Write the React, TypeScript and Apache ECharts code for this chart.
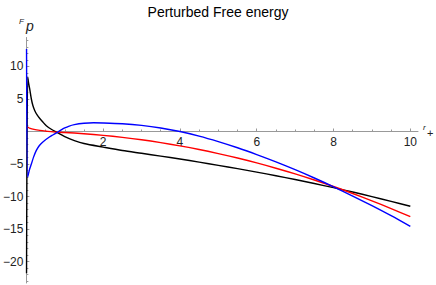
import React, { useEffect, useRef } from "react";
import * as echarts from "echarts";

const blackR = [0.005, 0.035, 0.06, 0.086, 0.13, 0.17, 0.22, 0.28, 0.35, 0.43, 0.52, 0.65, 0.8, 1.0, 1.25, 1.5, 2.0, 2.5, 3.0, 3.5, 4.0, 4.5, 5.0, 5.5, 6.0, 6.5, 7.0, 7.5, 8.0, 8.5, 9.0, 9.5, 10.0];
const blackF = [-21.8, 8.4, 7.4, 6.6, 5.0, 4.0, 3.2, 2.55, 2.0, 1.45, 0.9, 0.35, -0.15, -0.8, -1.4, -1.85, -2.4, -2.92, -3.35, -3.78, -4.22, -4.7, -5.2, -5.71, -6.24, -6.8, -7.39, -8.0, -8.64, -9.31, -10.01, -10.74, -11.5];

const redR = [0.035, 0.1, 0.2, 0.35, 0.52, 0.7, 1.0, 1.5, 2.0, 2.5, 3.0, 3.5, 4.0, 4.5, 5.0, 5.5, 6.0, 6.5, 7.0, 7.5, 8.0, 8.5, 9.0, 9.5, 10.0];
const redF = [0.7, 0.48, 0.32, 0.17, 0.05, -0.06, -0.15, -0.34, -0.59, -0.9, -1.27, -1.71, -2.21, -2.77, -3.4, -4.08, -4.83, -5.65, -6.52, -7.46, -8.46, -9.53, -10.66, -11.85, -13.1];

const blueR = [0.005, 0.035, 0.08, 0.13, 0.19, 0.26, 0.34, 0.43, 0.6, 0.7, 0.82, 0.92, 1.0, 1.1, 1.25, 1.5, 1.75, 2.0, 2.5, 3.0, 3.5, 4.0, 4.5, 5.0, 5.5, 6.0, 6.5, 7.0, 7.5, 8.0, 8.5, 9.0, 9.5, 10.0];
const blueF = [12.7, -7.0, -5.9, -5.0, -3.9, -2.9, -2.15, -1.6, -0.85, -0.5, -0.08, 0.3, 0.55, 0.8, 1.05, 1.26, 1.34, 1.32, 1.2, 0.95, 0.55, 0.0, -0.7, -1.55, -2.5, -3.55, -4.67, -5.87, -7.15, -8.5, -9.92, -11.4, -12.95, -14.6];

const xMajorTicks = [2, 4, 6, 8, 10];
const xMinorTicks = [0.5, 1, 1.5, 2.5, 3, 3.5, 4.5, 5, 5.5, 6.5, 7, 7.5, 8.5, 9, 9.5];
const yMajorTicks = [-20, -15, -10, -5, 5, 10];
const yMinorTicks = [-23, -22, -21, -19, -18, -17, -16, -14, -13, -12, -11, -9, -8, -7, -6, -4, -3, -2, -1, 1, 2, 3, 4, 6, 7, 8, 9, 11, 12, 13, 14];

const FONT = "'Liberation Sans', Arial, sans-serif";
const AXIS_COLOR = "#999999";
const LABEL_COLOR = "#222222";

const zip = (xs: number[], ys: number[]) => xs.map((x, i) => [x, ys[i]]);
const fmt = (v: number) => (v < 0 ? "\u2212" + Math.abs(v) : String(v));

export default function App() {
  const ref = useRef<HTMLDivElement>(null);
  useEffect(() => {
    if (!ref.current) return;
    const chart = echarts.init(ref.current, null, { renderer: "svg" });
    const Y_MIN = -23.3;
    const Y_MAX = 14.46;
    const GRID_TOP = 37.5;
    const GRID_BOTTOM = 2;
    const plotH = 285 - GRID_TOP - GRID_BOTTOM;
    // shift the x axis up from the grid bottom to where y = 0 lies
    const xOffset = -(plotH * (0 - Y_MIN)) / (Y_MAX - Y_MIN);
    const xBase = { type: "value", min: 0, max: 10.2, position: "bottom", offset: xOffset, splitLine: { show: false } };
    const yBase = { type: "value", min: Y_MIN, max: Y_MAX, position: "left", splitLine: { show: false } };
    const line = (name: string, data: number[][], color: string) => ({
      name,
      type: "line",
      data,
      xAxisIndex: 0,
      yAxisIndex: 0,
      showSymbol: false,
      symbol: "none",
      smooth: 0.3,
      clip: true,
      lineStyle: { color, width: 1.4 },
      itemStyle: { color },
    });
    chart.setOption({
      animation: false,
      title: {
        text: "Perturbed Free energy",
        left: "center",
        top: 0,
        textStyle: { fontSize: 14, fontWeight: "normal", color: "#000", fontFamily: FONT },
      },
      grid: { left: 25, right: 18, top: GRID_TOP, bottom: GRID_BOTTOM, containLabel: false },
      xAxis: [
        {
          ...xBase,
          axisLine: { onZero: false, lineStyle: { color: AXIS_COLOR, width: 1 } },
          axisTick: { show: true, inside: true, length: 3, customValues: xMajorTicks, lineStyle: { color: AXIS_COLOR } },
          axisLabel: { customValues: xMajorTicks, margin: 4, fontSize: 12, color: LABEL_COLOR, fontFamily: FONT, formatter: fmt },
        },
        {
          ...xBase,
          axisLine: { show: false, onZero: false },
          axisTick: { show: true, inside: true, length: 2, customValues: xMinorTicks, lineStyle: { color: AXIS_COLOR } },
          axisLabel: { show: false },
        },
      ],
      yAxis: [
        {
          ...yBase,
          axisLine: { show: true, onZero: false, lineStyle: { color: AXIS_COLOR, width: 1 } },
          axisTick: { show: true, inside: true, length: 3, customValues: yMajorTicks, lineStyle: { color: AXIS_COLOR } },
          axisLabel: { customValues: yMajorTicks, margin: 3, fontSize: 12, color: LABEL_COLOR, fontFamily: FONT, formatter: fmt },
        },
        {
          ...yBase,
          axisLine: { show: false, onZero: false },
          axisTick: { show: true, inside: true, length: 2, customValues: yMinorTicks, lineStyle: { color: AXIS_COLOR } },
          axisLabel: { show: false },
        },
      ],
      graphic: [
        { type: "text", left: 19, top: 17, style: { text: "F", fontSize: 8, fontStyle: "italic", fill: LABEL_COLOR, fontFamily: FONT } },
        { type: "text", left: 26, top: 19, style: { text: "p", fontSize: 14, fontStyle: "italic", fill: LABEL_COLOR, fontFamily: FONT } },
        { type: "text", left: 423, top: 123, style: { text: "r", fontSize: 8, fontStyle: "italic", fill: LABEL_COLOR, fontFamily: FONT } },
        { type: "text", left: 427, top: 127, style: { text: "+", fontSize: 11, fill: LABEL_COLOR, fontFamily: FONT } },
      ],
      series: [
        line("black", zip(blackR, blackF), "#000000"),
        line("red", zip(redR, redF), "#ff0000"),
        line("blue", zip(blueR, blueF), "#0000ff"),
      ],
    });
    return () => chart.dispose();
  }, []);
  return <div ref={ref} style={{ position: "absolute", left: 0, top: 0, width: 436, height: 285 }} />;
}
